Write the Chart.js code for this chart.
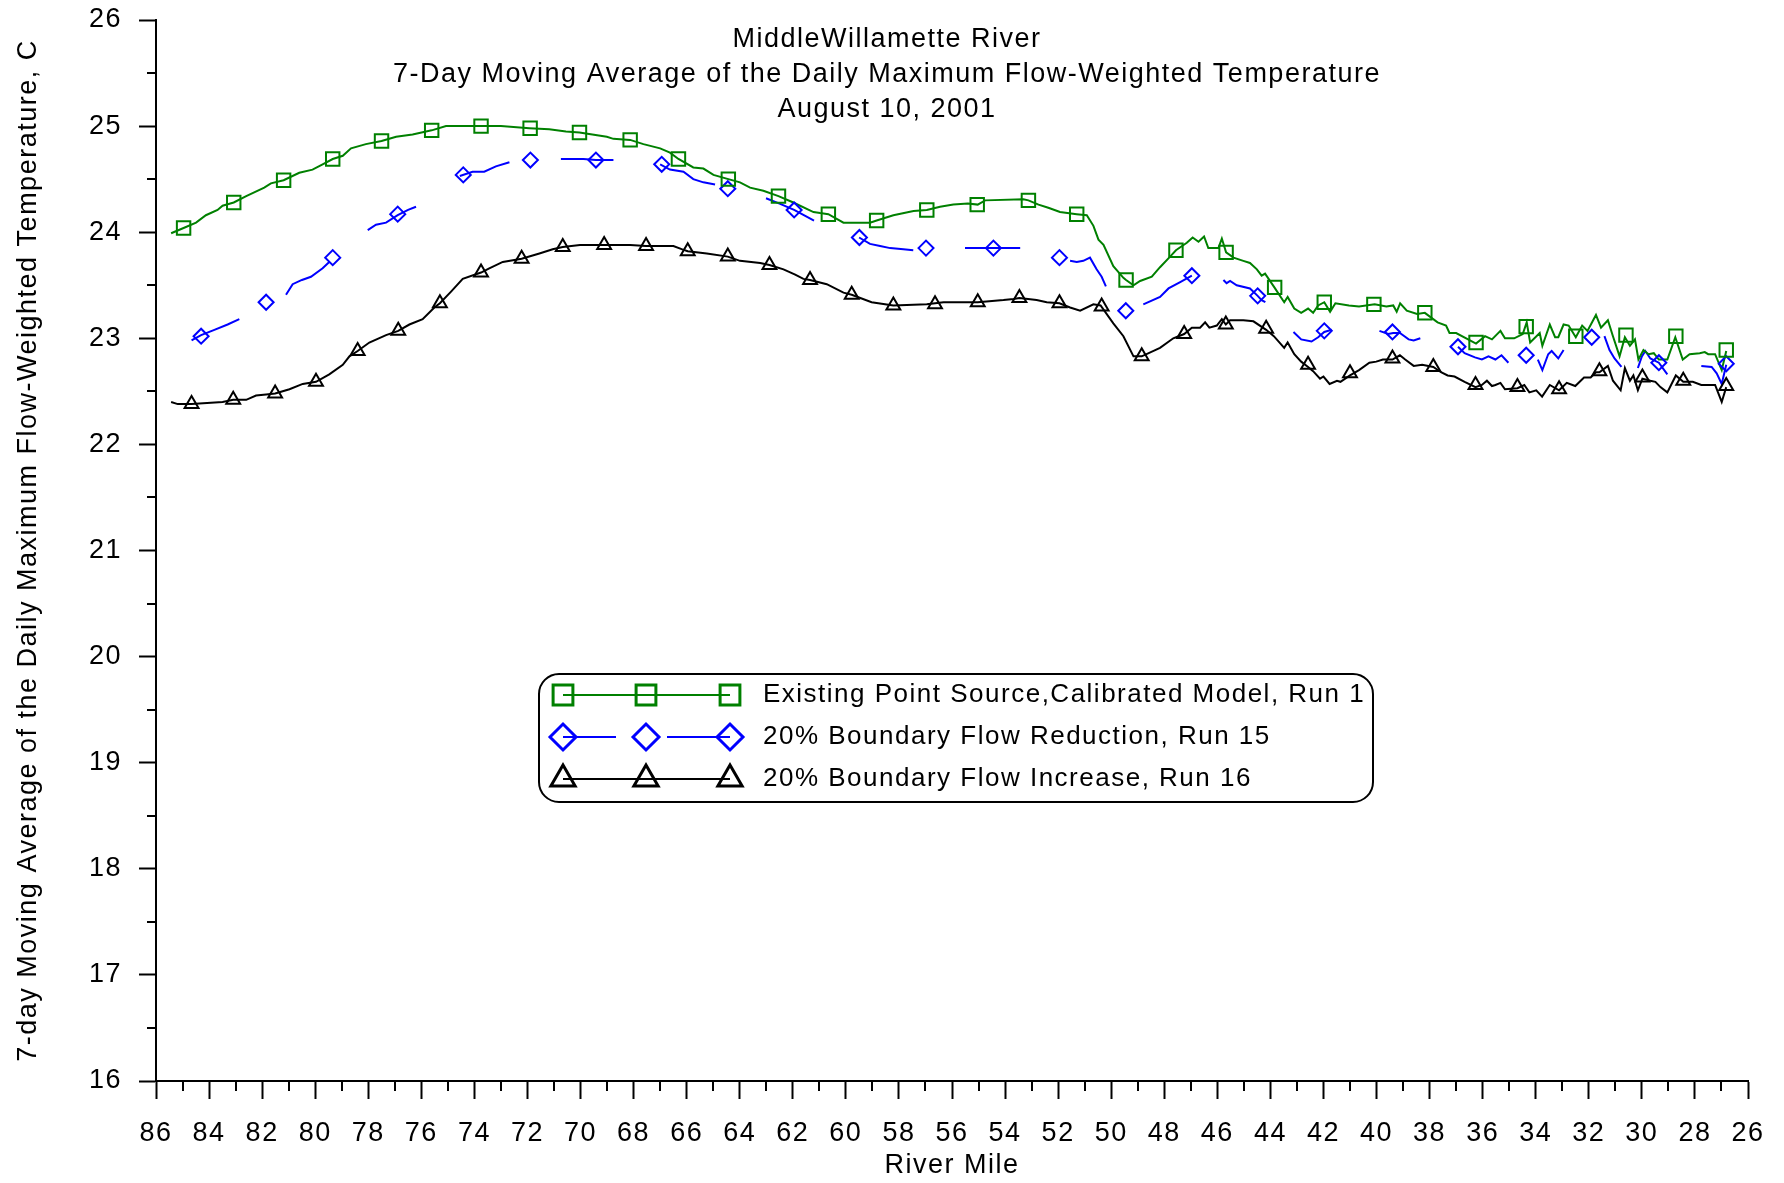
<!DOCTYPE html>
<html>
<head>
<meta charset="utf-8">
<title>Middle Willamette River - 7-Day Moving Average</title>
<script src="https://cdn.jsdelivr.net/npm/chart.js@4.4.1/dist/chart.umd.min.js"></script>
<style>
  html, body { margin: 0; padding: 0; background: #fff; }
  #wrap { width: 1784px; height: 1183px; }
</style>
</head>
<body>
<div id="wrap"><canvas id="tempChart" width="1784" height="1183"></canvas></div>
<script>
// ==========================================
//  MIDDLE WILLAMETTE RIVER - 7 DAY MAX TEMPS
// ==========================================

// === DATA: [river mile, temperature C] ===
// Run 1 - existing point source, calibrated model
const run1Line = [
  [85.43, 23.99], [84.96, 24.04], [84.49, 24.09], [84.12, 24.16], [83.68, 24.21], [83.49, 24.25], [83.07, 24.28],
  [82.6, 24.34], [81.92, 24.42], [81.67, 24.46], [81.19, 24.49], [80.6, 24.56], [80.1, 24.59], [79.72, 24.64],
  [79.34, 24.69], [78.96, 24.72], [78.65, 24.79], [78.09, 24.83], [77.5, 24.86], [76.95, 24.9], [76.33, 24.92],
  [75.61, 24.96], [75.07, 25.0], [74.07, 25.0], [73.0, 25.0], [71.93, 24.98], [71.18, 24.97], [70.55, 24.95],
  [70.04, 24.94], [69.01, 24.9], [68.76, 24.88], [68.13, 24.87], [67.63, 24.83], [67.0, 24.79], [66.63, 24.75],
  [66.31, 24.69], [65.75, 24.61], [65.37, 24.6], [64.99, 24.54], [64.43, 24.5], [63.99, 24.47], [63.61, 24.42],
  [63.11, 24.39], [62.54, 24.34], [61.98, 24.28], [61.22, 24.19], [60.97, 24.18], [60.66, 24.17], [60.09, 24.09],
  [59.09, 24.09], [58.84, 24.11], [58.21, 24.16], [57.45, 24.2], [56.95, 24.21], [56.45, 24.24], [55.95, 24.26],
  [55.4, 24.27], [55.03, 24.26], [54.75, 24.3], [53.31, 24.31], [53.12, 24.3], [52.74, 24.26], [52.37, 24.23],
  [51.93, 24.19], [51.3, 24.17], [50.92, 24.16], [50.67, 24.06], [50.48, 23.93], [50.29, 23.88], [49.92, 23.68],
  [49.54, 23.57], [49.44, 23.55], [49.16, 23.5], [48.91, 23.54], [48.47, 23.58], [48.16, 23.67], [47.78, 23.77],
  [47.56, 23.83], [47.15, 23.9], [46.93, 23.95], [46.71, 23.91], [46.5, 23.96], [46.34, 23.85], [45.96, 23.85],
  [45.83, 23.94], [45.67, 23.81], [45.39, 23.76], [45.02, 23.73], [44.77, 23.71], [44.51, 23.65], [44.33, 23.59],
  [44.2, 23.61], [43.85, 23.48], [43.48, 23.34], [43.35, 23.39], [43.1, 23.28], [42.84, 23.24], [42.58, 23.28],
  [42.39, 23.24], [42.2, 23.31], [41.97, 23.34], [41.75, 23.25], [41.55, 23.33], [41.04, 23.31], [40.66, 23.3],
  [40.07, 23.32], [39.63, 23.3], [39.37, 23.31], [39.24, 23.25], [39.11, 23.33], [38.86, 23.26], [38.47, 23.23],
  [38.18, 23.24], [37.7, 23.15], [37.38, 23.12], [37.25, 23.05], [37.0, 23.05], [36.55, 22.99], [36.25, 22.95],
  [35.91, 23.02], [35.65, 22.99], [35.33, 23.07], [35.16, 23.0], [34.81, 23.0], [34.49, 23.04], [34.34, 23.15],
  [34.21, 22.96], [33.85, 23.05], [33.75, 22.93], [33.47, 23.13], [33.27, 23.01], [33.15, 23.01], [32.95, 23.13],
  [32.76, 23.12], [32.49, 23.01], [32.25, 23.12], [32.05, 23.07], [31.73, 23.22], [31.54, 23.1], [31.28, 23.17],
  [31.09, 23.02], [30.84, 22.83], [30.64, 23.01], [30.45, 22.93], [30.26, 22.99], [30.13, 22.8], [29.94, 22.89],
  [29.75, 22.85], [29.55, 22.86], [29.36, 22.8], [29.04, 22.8], [28.74, 23.01], [28.46, 22.8], [28.2, 22.85],
  [27.82, 22.86], [27.63, 22.87], [27.5, 22.85], [27.24, 22.85], [26.99, 22.7], [26.82, 22.88]
];
const run1Marks = [
  [84.96, 24.04], [83.07, 24.28], [81.19, 24.49], [79.34, 24.69], [77.5, 24.86], [75.61, 24.96], [73.75, 25.0],
  [71.9, 24.98], [70.04, 24.94], [68.13, 24.87], [66.31, 24.69], [64.43, 24.5], [62.54, 24.34], [60.66, 24.17],
  [58.84, 24.11], [56.95, 24.21], [55.05, 24.26], [53.12, 24.3], [51.3, 24.17], [49.44, 23.55], [47.56, 23.83],
  [45.67, 23.81], [43.84, 23.48], [41.97, 23.34], [40.1, 23.32], [38.18, 23.24], [36.25, 22.96], [34.36, 23.11],
  [32.49, 23.02], [30.6, 23.03], [28.72, 23.02], [26.82, 22.89]
];

// Run 15 - 20% boundary flow reduction (long dashes, null = gap)
const run15Line = [
  [84.66, 22.98], [84.3, 23.03], [83.8, 23.08], [83.3, 23.13], [82.86, 23.18], [82.0, null],
  [81.1, 23.41], [80.85, 23.51], [80.5, 23.55], [80.16, 23.58], [79.72, 23.66], [79.47, 23.72], [78.8, null],
  [78.02, 24.02], [77.71, 24.07], [77.33, 24.09], [76.89, 24.16], [76.5, 24.21], [76.2, 24.24], [75.4, null],
  [74.55, 24.53], [74.07, 24.57], [73.63, 24.57], [73.19, 24.62], [72.68, 24.66], [71.7, null],
  [70.74, 24.69], [69.89, 24.69], [69.42, 24.68], [68.76, 24.68], [67.9, null],
  [67.0, 24.64], [66.63, 24.59], [66.12, 24.57], [65.75, 24.5], [65.37, 24.47], [64.93, 24.45], [64.0, null],
  [63.01, 24.32], [62.5, 24.27], [61.95, 24.21], [61.2, 24.11], [60.3, null],
  [59.5, 23.95], [59.09, 23.89], [58.71, 23.87], [58.33, 23.85], [57.83, 23.84], [57.46, 23.83], [56.5, null],
  [55.51, 23.85], [54.44, 23.85], [53.43, 23.85], [52.5, null],
  [51.55, 23.73], [51.3, 23.72], [51.05, 23.73], [50.8, 23.76], [50.55, 23.65], [50.36, 23.58], [50.2, 23.49], [49.5, null],
  [48.79, 23.32], [48.16, 23.39], [47.84, 23.47], [47.4, 23.53], [46.96, 23.59], [46.4, null],
  [45.77, 23.55], [45.65, 23.52], [45.52, 23.54], [45.27, 23.5], [44.77, 23.47], [44.48, 23.4], [44.33, 23.36], [44.19, 23.34], [43.6, null],
  [43.13, 23.06], [42.84, 22.99], [42.45, 22.97], [42.2, 23.01], [41.97, 23.06], [41.69, 23.08], [40.8, null],
  [39.89, 23.07], [39.56, 23.04], [39.37, 23.05], [39.12, 23.05], [38.79, 22.99], [38.6, 22.98], [38.35, 23.0], [37.6, null],
  [36.93, 22.92], [36.68, 22.86], [36.29, 22.82], [36.03, 22.8], [35.78, 22.83], [35.52, 22.8], [35.29, 22.84], [35.03, 22.77], [34.5, null],
  [33.92, 22.8], [33.75, 22.7], [33.53, 22.85], [33.4, 22.88], [33.15, 22.81], [32.95, 22.89], [32.2, null],
  [31.41, 23.02], [31.22, 22.89], [31.03, 22.81], [30.77, 22.73], [30.45, null],
  [30.15, 22.72], [30.0, 22.83], [29.87, 22.88], [29.68, 22.81], [29.36, 22.77], [29.04, 22.66], [28.4, null],
  [27.76, 22.74], [27.37, 22.73], [27.18, 22.67], [26.99, 22.57], [26.82, 22.75]
];
const run15Marks = [
  [84.3, 23.02], [81.85, 23.34], [79.34, 23.76], [76.89, 24.17], [74.42, 24.54], [71.89, 24.68], [69.42, 24.68],
  [66.94, 24.64], [64.45, 24.41], [61.95, 24.21], [59.49, 23.95], [56.98, 23.85], [54.44, 23.85], [51.95, 23.76],
  [49.45, 23.26], [46.96, 23.59], [44.48, 23.4], [41.97, 23.07], [39.4, 23.06], [36.93, 22.92], [34.36, 22.84],
  [31.89, 23.01], [29.36, 22.77], [26.82, 22.76]
];

// Run 16 - 20% boundary flow increase
const run16Line = [
  [85.43, 22.4], [85.18, 22.38], [84.66, 22.38], [83.49, 22.4], [83.09, 22.42], [82.6, 22.42], [82.23, 22.46],
  [81.85, 22.47], [81.51, 22.48], [80.97, 22.52], [80.47, 22.57], [79.97, 22.59], [79.47, 22.66], [78.96, 22.75],
  [78.71, 22.83], [78.4, 22.88], [77.96, 22.96], [77.33, 23.03], [76.87, 23.07], [76.45, 23.13], [75.95, 23.18],
  [75.51, 23.29], [75.3, 23.33], [74.88, 23.44], [74.44, 23.56], [73.75, 23.62], [73.44, 23.66], [72.93, 23.72],
  [72.22, 23.75], [71.55, 23.8], [71.05, 23.84], [70.67, 23.86], [70.02, 23.88], [69.11, 23.88], [68.13, 23.88],
  [67.53, 23.87], [66.5, 23.87], [66.19, 23.84], [65.96, 23.82], [65.24, 23.8], [64.45, 23.77], [63.99, 23.73],
  [63.23, 23.71], [62.88, 23.69], [62.35, 23.65], [61.91, 23.6], [61.6, 23.56], [61.35, 23.55], [60.72, 23.51],
  [60.09, 23.43], [59.78, 23.41], [59.03, 23.34], [58.21, 23.31], [56.95, 23.32], [56.32, 23.34], [55.03, 23.34],
  [54.06, 23.36], [53.68, 23.37], [53.46, 23.38], [52.81, 23.36], [52.43, 23.34], [51.95, 23.33], [51.55, 23.29],
  [51.17, 23.26], [50.67, 23.32], [50.4, 23.31], [49.92, 23.14], [49.54, 23.02], [49.16, 22.83], [48.85, 22.83],
  [48.16, 22.91], [47.66, 23.0], [47.25, 23.04], [46.96, 23.1], [46.65, 23.1], [46.46, 23.15], [46.3, 23.1],
  [46.02, 23.12], [45.83, 23.18], [45.68, 23.13], [45.52, 23.17], [45.02, 23.17], [44.64, 23.16], [44.16, 23.08],
  [43.87, 23.02], [43.48, 22.91], [43.35, 22.96], [43.1, 22.85], [42.84, 22.78], [42.58, 22.73], [42.39, 22.69],
  [42.13, 22.62], [42.0, 22.64], [41.77, 22.57], [41.49, 22.6], [41.36, 22.59], [41.0, 22.65], [40.66, 22.7],
  [40.27, 22.77], [40.01, 22.78], [39.76, 22.8], [39.4, 22.8], [39.12, 22.84], [38.92, 22.8], [38.6, 22.74],
  [38.28, 22.75], [37.86, 22.73], [37.57, 22.68], [37.32, 22.65], [37.06, 22.64], [36.68, 22.59], [36.27, 22.54],
  [36.03, 22.56], [35.84, 22.6], [35.65, 22.55], [35.52, 22.56], [35.33, 22.58], [35.16, 22.52], [34.69, 22.53],
  [34.43, 22.56], [34.24, 22.49], [33.98, 22.51], [33.76, 22.45], [33.47, 22.56], [33.12, 22.51], [32.83, 22.58],
  [32.51, 22.55], [32.18, 22.63], [31.93, 22.63], [31.73, 22.68], [31.6, 22.68], [31.28, 22.74], [31.09, 22.6],
  [30.8, 22.51], [30.64, 22.72], [30.45, 22.6], [30.32, 22.65], [30.15, 22.51], [29.98, 22.62], [29.68, 22.6],
  [29.49, 22.59], [29.3, 22.54], [29.04, 22.49], [28.72, 22.65], [28.44, 22.59], [28.08, 22.59], [27.76, 22.56],
  [27.43, 22.56], [27.24, 22.56], [26.99, 22.4], [26.82, 22.54]
];
const run16Marks = [
  [84.66, 22.38], [83.09, 22.42], [81.51, 22.48], [79.97, 22.59], [78.4, 22.88], [76.87, 23.07], [75.3, 23.33],
  [73.75, 23.62], [72.22, 23.75], [70.67, 23.86], [69.11, 23.88], [67.53, 23.87], [65.96, 23.82], [64.45, 23.77],
  [62.88, 23.69], [61.35, 23.55], [59.78, 23.41], [58.21, 23.31], [56.64, 23.32], [55.03, 23.34], [53.46, 23.38],
  [51.95, 23.33], [50.36, 23.3], [48.85, 22.83], [47.25, 23.04], [45.68, 23.13], [44.16, 23.09], [42.58, 22.75],
  [41.0, 22.67], [39.4, 22.81], [37.86, 22.73], [36.27, 22.56], [34.69, 22.54], [33.12, 22.52], [31.6, 22.69],
  [29.98, 22.63], [28.44, 22.6], [26.82, 22.55]
];

// === AXES ===
const mileTicks = [86, 84, 82, 80, 78, 76, 74, 72, 70, 68, 66, 64, 62, 60, 58, 56, 54, 52, 50, 48, 46, 44, 42, 40, 38, 36, 34, 32, 30, 28, 26];
const mileMinor = [85, 83, 81, 79, 77, 75, 73, 71, 69, 67, 65, 63, 61, 59, 57, 55, 53, 51, 49, 47, 45, 43, 41, 39, 37, 35, 33, 31, 29, 27];
const tempTicks = [16, 17, 18, 19, 20, 21, 22, 23, 24, 25, 26];
const tempMinor = [16.5, 17.5, 18.5, 19.5, 20.5, 21.5, 22.5, 23.5, 24.5, 25.5];

const titleLines = ['MiddleWillamette River', '7-Day Moving Average of the Daily Maximum Flow-Weighted Temperature', 'August 10, 2001'];
const seriesNames = ['Existing Point Source,Calibrated Model, Run 1', '20% Boundary Flow Reduction, Run 15', '20% Boundary Flow Increase, Run 16'];

(function() {
  'use strict';

  const FONT = "'Liberation Sans', Arial, sans-serif";
  const SPACING = '1.5px';
  const GREEN = '#008000';
  const BLUE = '#0000FF';
  const BLACK = '#000000';

  function toPoints(pairs) {
    return pairs.map(function(p) { return { x: p[0], y: p[1] }; });
  }

  // hollow marker, same geometry as chart.js point styles
  function drawMarker(ctx, style, x, y, r) {
    ctx.beginPath();
    if (style === 'rect') {
      const s = Math.SQRT1_2 * r;
      ctx.rect(x - s, y - s, 2 * s, 2 * s);
    } else if (style === 'rectRot') {
      ctx.moveTo(x - r, y);
      ctx.lineTo(x, y - r);
      ctx.lineTo(x + r, y);
      ctx.lineTo(x, y + r);
      ctx.closePath();
    } else {
      ctx.moveTo(x, y - r);
      ctx.lineTo(x + Math.sin(2 * Math.PI / 3) * r, y + 0.5 * r);
      ctx.lineTo(x - Math.sin(2 * Math.PI / 3) * r, y + 0.5 * r);
      ctx.closePath();
    }
    ctx.stroke();
  }

  function roundBox(ctx, x, y, w, h, r) {
    ctx.beginPath();
    ctx.moveTo(x + r, y);
    ctx.arcTo(x + w, y, x + w, y + h, r);
    ctx.arcTo(x + w, y + h, x, y + h, r);
    ctx.arcTo(x, y + h, x, y, r);
    ctx.arcTo(x, y, x + w, y, r);
    ctx.closePath();
    ctx.stroke();
  }

  // the original lettering is a bit wider than Arial
  function spaceLetters(chart) {
    if ('letterSpacing' in chart.ctx) {
      chart.ctx.letterSpacing = SPACING;
    }
  }

  // === DECORATION PLUGIN: minor ticks, title, legend ===
  const decorPlugin = {
    id: 'decor',
    beforeLayout: spaceLetters,
    beforeDraw: spaceLetters,
    afterDraw: function(chart) {
      const ctx = chart.ctx;
      const xs = chart.scales.x;
      const ys = chart.scales.y;
      const area = chart.chartArea;

      ctx.save();
      ctx.strokeStyle = BLACK;
      ctx.lineWidth = 2;

      // minor ticks
      ctx.beginPath();
      mileMinor.forEach(function(v) {
        const px = Math.round(xs.getPixelForValue(v));
        ctx.moveTo(px, area.bottom);
        ctx.lineTo(px, area.bottom + 10);
      });
      tempMinor.forEach(function(v) {
        const py = Math.round(ys.getPixelForValue(v));
        ctx.moveTo(area.left, py);
        ctx.lineTo(area.left - 9, py);
      });
      ctx.stroke();

      // title inside the plot
      ctx.fillStyle = BLACK;
      ctx.font = '27px ' + FONT;
      ctx.textAlign = 'center';
      ctx.textBaseline = 'middle';
      titleLines.forEach(function(t, i) {
        ctx.fillText(t, 887, 40 + i * 35);
      });

      // legend box
      roundBox(ctx, 539, 674, 834, 128, 20);

      const rows = [
        { color: GREEN, style: 'rect', r: 14, y: 695, gap: false },
        { color: BLUE, style: 'rectRot', r: 13, y: 737, gap: true },
        { color: BLACK, style: 'triangle', r: 14, y: 779, gap: false }
      ];
      ctx.font = '26px ' + FONT;
      rows.forEach(function(row, i) {
        ctx.strokeStyle = row.color;
        ctx.lineWidth = 2;
        ctx.beginPath();
        if (row.gap) {
          ctx.moveTo(563, row.y); ctx.lineTo(616, row.y);
          ctx.moveTo(667, row.y); ctx.lineTo(730, row.y);
        } else {
          ctx.moveTo(563, row.y); ctx.lineTo(730, row.y);
        }
        ctx.stroke();
        ctx.lineWidth = 3;
        [563, 646, 730].forEach(function(mx) {
          drawMarker(ctx, row.style, mx, row.y, row.r);
        });
        ctx.fillStyle = BLACK;
        ctx.textAlign = 'left';
        ctx.textBaseline = 'middle';
        ctx.fillText(seriesNames[i], 763, row.y);
      });

      ctx.restore();
    }
  };

  // === CHART ===
  Chart.defaults.font.family = FONT;
  Chart.defaults.font.size = 27;
  Chart.defaults.color = BLACK;

  const lineBase = {
    pointRadius: 0,
    pointHoverRadius: 0,
    borderWidth: 2,
    tension: 0,
    fill: false,
    spanGaps: false,
    order: 2
  };
  const markBase = {
    showLine: false,
    pointBorderWidth: 2,
    pointBackgroundColor: 'rgba(0,0,0,0)',
    pointHoverRadius: 0,
    order: 1
  };

  const ctx = document.getElementById('tempChart').getContext('2d');
  new Chart(ctx, {
    type: 'line',
    data: {
      datasets: [
        Object.assign({}, lineBase, { label: seriesNames[0], data: toPoints(run1Line), borderColor: GREEN }),
        Object.assign({}, lineBase, { label: seriesNames[1], data: toPoints(run15Line), borderColor: BLUE }),
        Object.assign({}, lineBase, { label: seriesNames[2], data: toPoints(run16Line), borderColor: BLACK }),
        Object.assign({}, markBase, { label: 'run1 markers', data: toPoints(run1Marks), borderColor: GREEN,
          pointBorderColor: GREEN, pointStyle: 'rect', pointRadius: 9.5 }),
        Object.assign({}, markBase, { label: 'run15 markers', data: toPoints(run15Marks), borderColor: BLUE,
          pointBorderColor: BLUE, pointStyle: 'rectRot', pointRadius: 7.5 }),
        Object.assign({}, markBase, { label: 'run16 markers', data: toPoints(run16Marks), borderColor: BLACK,
          pointBorderColor: BLACK, pointStyle: 'triangle', pointRadius: 8 })
      ]
    },
    options: {
      responsive: false,
      animation: false,
      devicePixelRatio: 1,
      layout: { padding: { left: 0, right: 36, top: 20, bottom: 0 } },
      plugins: {
        legend: { display: false },
        title: { display: false },
        tooltip: { enabled: false }
      },
      scales: {
        x: {
          type: 'linear',
          reverse: true,
          min: 26,
          max: 86,
          afterBuildTicks: function(scale) {
            scale.ticks = mileTicks.map(function(v) { return { value: v }; });
          },
          afterFit: function(scale) { scale.height = 102; },
          ticks: { autoSkip: false, minRotation: 0, maxRotation: 0, padding: 18, color: BLACK },
          grid: { display: true, drawOnChartArea: false, drawTicks: true, tickLength: 18, tickWidth: 2, tickColor: BLACK },
          border: { display: true, color: BLACK, width: 2 },
          title: { display: true, text: 'River Mile', color: BLACK, padding: { top: 0, bottom: 1 } }
        },
        y: {
          type: 'linear',
          min: 16,
          max: 26,
          afterBuildTicks: function(scale) {
            scale.ticks = tempTicks.map(function(v) { return { value: v }; });
          },
          afterFit: function(scale) {
            scale.width = 156;
            // keep the plot top at the layout padding, not label + tick padding
            scale.paddingTop = 0;
            scale.paddingBottom = 0;
          },
          ticks: { padding: 17, color: BLACK },
          grid: { display: true, drawOnChartArea: false, drawTicks: true, tickLength: 17, tickWidth: 2, tickColor: BLACK },
          border: { display: true, color: BLACK, width: 2 },
          title: {
            display: true,
            text: '7-day Moving Average of the Daily Maximum Flow-Weighted Temperature, C',
            color: BLACK,
            padding: { top: 12, bottom: 0 }
          }
        }
      }
    },
    plugins: [decorPlugin]
  });

})();
</script>
</body>
</html>
